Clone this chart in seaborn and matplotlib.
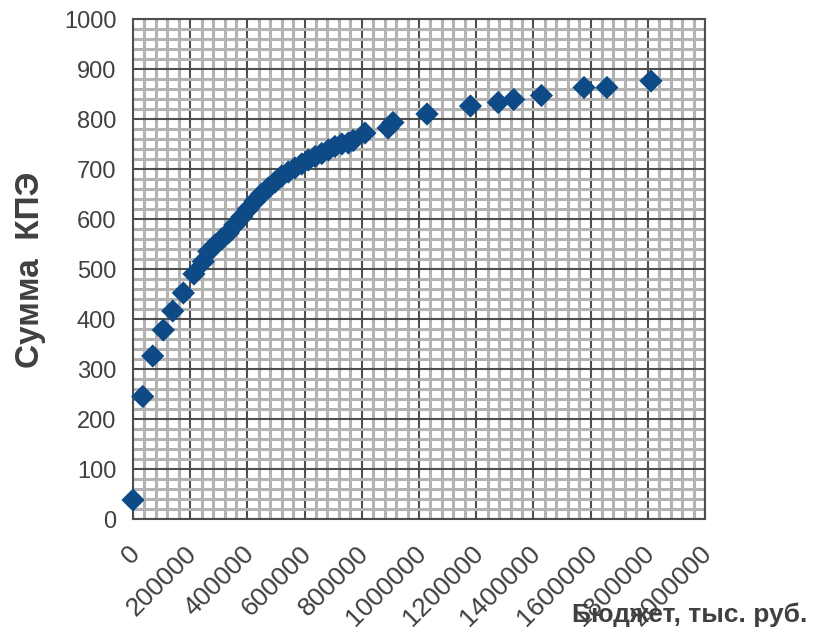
import matplotlib
matplotlib.use("Agg")
import matplotlib.pyplot as plt
from matplotlib.ticker import MultipleLocator
from matplotlib.transforms import ScaledTranslation
import seaborn as sns

# Budget (thousand roubles) and summed KPI score
budget = [0, 34000, 69000, 106000, 139000, 176000, 213000, 246000, 265000,
          287000, 310000, 333000, 356000, 380000, 403000, 427000, 450000,
          473000, 497000, 520000, 543000, 566000, 590000, 613000, 637000,
          660000, 683000, 706000, 730000, 753000, 770000, 811000, 892000,
          909000, 1028000, 1180000, 1277000, 1331000, 1428000, 1577000,
          1657000, 1811000]
kpe = [38, 245, 326, 378, 416, 452, 490, 515, 535, 548, 560, 572, 588, 604,
       620, 636, 650, 662, 674, 686, 694, 702, 710, 718, 725, 731, 738, 745,
       750, 752, 757, 772, 782, 793, 810, 826, 833, 839, 847, 863, 863, 876]

x_ticks = list(range(0, 2000001, 200000))
y_ticks = list(range(0, 1001, 100))

sns.set_style("white")
plt.rcParams["font.family"] = ["Liberation Sans", "DejaVu Sans"]

fig = plt.figure(figsize=(8.17, 6.34), dpi=100)
ax = fig.add_axes([133 / 817, 1 - 519 / 634, 572 / 817, 500 / 634])

sns.scatterplot(x=budget, y=kpe, marker="D", s=140, color="#0D4A86",
                edgecolor="none", linewidth=0, ax=ax, zorder=3, clip_on=False)

ax.set_xlim(0, 2000000)
ax.set_ylim(0, 1000)
ax.set_xticks(x_ticks)
ax.set_yticks(y_ticks)
ax.set_xticklabels([str(v) for v in x_ticks], rotation=45, ha="right",
                   va="center", rotation_mode="anchor")
ax.set_yticklabels([str(v) for v in y_ticks])
ax.xaxis.set_minor_locator(MultipleLocator(40000))
ax.yaxis.set_minor_locator(MultipleLocator(20))

ax.set_axisbelow(True)
ax.grid(which="minor", color="#b3b3b3", linewidth=2.2)
ax.grid(which="major", color="#4f4f4f", linewidth=1.5)
ax.tick_params(which="minor", length=0)
ax.tick_params(which="major", direction="out", length=8, width=1.5,
               color="#4f4f4f", labelcolor="#404040")
ax.tick_params(axis="x", pad=14, labelsize=19)
ax.tick_params(axis="y", pad=4, labelsize=17)
for sp in ax.spines.values():
    sp.set_color("#4f4f4f")
    sp.set_linewidth(1.5)

# nudge the slanted budget labels a little to the right of their ticks
shift = ScaledTranslation(3 / 100, 0, fig.dpi_scale_trans)
for lbl in ax.get_xticklabels():
    lbl.set_transform(lbl.get_transform() + shift)

ax.set_xlabel("Бюджет, тыс. руб.", fontsize=19, fontweight="bold",
              color="#404040")
ax.xaxis.set_label_coords((572 - 133) / 572, -0.192)
ax.xaxis.label.set_ha("left")
ax.xaxis.label.set_va("center")

ax.set_ylabel("Сумма  КПЭ", fontsize=24, fontweight="bold", color="#404040")
ax.yaxis.set_label_coords(-0.18, 0.498)
ax.yaxis.label.set_va("center")

fig.savefig("out.png", dpi=100)
